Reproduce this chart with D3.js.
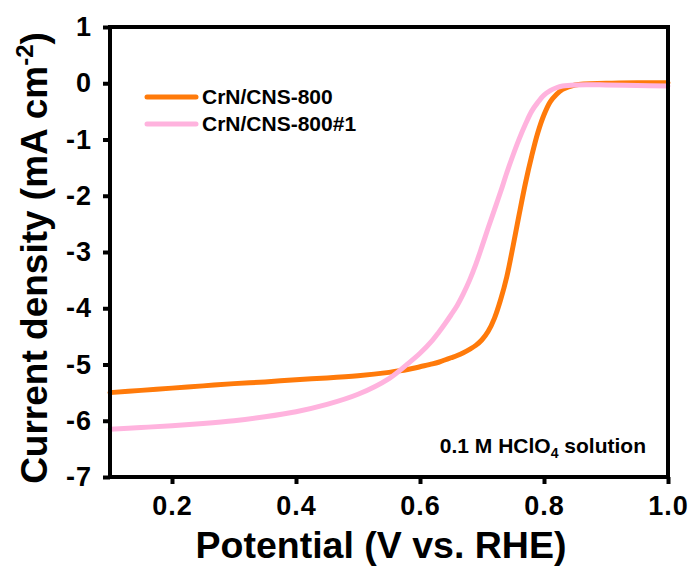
<!DOCTYPE html>
<html><head><meta charset="utf-8">
<script src="https://cdn.jsdelivr.net/npm/d3@7"></script>
<style>body{margin:0;background:#fff}svg{display:block;font-family:"Liberation Sans",Arial,sans-serif}</style>
</head><body><svg id="c" width="693" height="569"></svg>
<script>
const potential = [0.1,0.15,0.2,0.25,0.3,0.35,0.4,0.45,0.5,0.55,0.58,0.6,0.62,0.63,0.64,0.65,0.66,0.67,0.68,0.69,0.7,0.71,0.72,0.73,0.74,0.75,0.76,0.77,0.78,0.79,0.8,0.81,0.82,0.83,0.85,0.9,0.95,1.0];
const crn800 = [-5.50,-5.46,-5.42,-5.38,-5.34,-5.31,-5.27,-5.24,-5.20,-5.14,-5.09,-5.04,-4.99,-4.96,-4.92,-4.88,-4.84,-4.79,-4.73,-4.66,-4.56,-4.41,-4.18,-3.85,-3.44,-2.90,-2.33,-1.78,-1.30,-0.88,-0.56,-0.33,-0.20,-0.11,-0.03,0.00,0.01,0.01];
const crn800n1 = [-6.15,-6.12,-6.09,-6.05,-6.00,-5.93,-5.84,-5.71,-5.53,-5.25,-4.99,-4.80,-4.57,-4.43,-4.28,-4.12,-3.95,-3.74,-3.50,-3.22,-2.90,-2.57,-2.25,-1.93,-1.59,-1.28,-0.99,-0.73,-0.50,-0.34,-0.21,-0.13,-0.08,-0.05,-0.03,-0.03,-0.04,-0.05];
const seriesNames = ["CrN/CNS-800","CrN/CNS-800#1"];
const seriesColors = ["#ff7a0a","#ffb3de"];
const xTicks = [0.2,0.4,0.6,0.8,1.0];
const yTicks = [1,0,-1,-2,-3,-4,-5,-6,-7];

const svg = d3.select("#c");
const L=110,R=668,T=27,B=477;
const x = d3.scaleLinear().domain([0.1,1.0]).range([L,R]);
const y = d3.scaleLinear().domain([-7,1]).range([B,T]);

const line = d3.line().x(d=>x(d[0])).y(d=>y(d[1])).curve(d3.curveCatmullRom.alpha(0.5));
const seriesData = [crn800, crn800n1];
seriesData.forEach((s,i)=>{
  svg.append("path").datum(potential.map((p,k)=>[p,s[k]]))
    .attr("d",line).attr("fill","none").attr("stroke",seriesColors[i])
    .attr("stroke-width",5).attr("stroke-linejoin","round").attr("stroke-linecap","round");
});

// frame
svg.append("rect").attr("x",L).attr("y",T).attr("width",R-L).attr("height",B-T)
  .attr("fill","none").attr("stroke","#000").attr("stroke-width",4);

const xa = svg.append("g").attr("transform",`translate(0,${B})`)
  .call(d3.axisBottom(x).tickValues(xTicks).tickFormat(d3.format(".1f")).tickSize(7).tickPadding(12));
const ya = svg.append("g").attr("transform",`translate(${L},0)`)
  .call(d3.axisLeft(y).tickValues(yTicks).tickFormat(d=>d).tickSize(7).tickPadding(11));
[xa,ya].forEach(a=>{
  a.select(".domain").remove();
  a.selectAll(".tick line").attr("stroke","#000").attr("stroke-width",4);
  a.selectAll(".tick text").attr("fill","#000").attr("font-size",27).attr("font-weight","bold")
   .attr("letter-spacing",1)
   .attr("font-family","'Liberation Sans',Arial,sans-serif");
});

svg.append("text").attr("x",(L+R)/2-8).attr("y",558).attr("text-anchor","middle")
  .attr("font-size",37.5).attr("font-weight","bold").text("Potential (V vs. RHE)");

const yl = svg.append("text").attr("transform",`translate(47,${(T+B)/2+6}) rotate(-90)`)
  .attr("text-anchor","middle").attr("font-size",37).attr("font-weight","bold");
yl.append("tspan").text("Current density (mA cm");
yl.append("tspan").attr("font-size",24).attr("dy",-14).text("-2");
yl.append("tspan").attr("dy",14).text(")");

// legend
seriesNames.forEach((n,i)=>{
  const ly = 97 + i*27;
  svg.append("line").attr("x1",147).attr("x2",196).attr("y1",ly).attr("y2",ly)
    .attr("stroke",seriesColors[i]).attr("stroke-width",5).attr("stroke-linecap","round");
  svg.append("text").attr("x",202).attr("y",ly+7).attr("font-size",21).attr("font-weight","bold").text(n);
});

const ann = svg.append("text").attr("x",646).attr("y",453).attr("text-anchor","end")
  .attr("font-size",21).attr("font-weight","bold");
ann.append("tspan").text("0.1 M HClO");
ann.append("tspan").attr("font-size",14).attr("dy",5).text("4");
ann.append("tspan").attr("dy",-5).text(" solution");
</script></body></html>
